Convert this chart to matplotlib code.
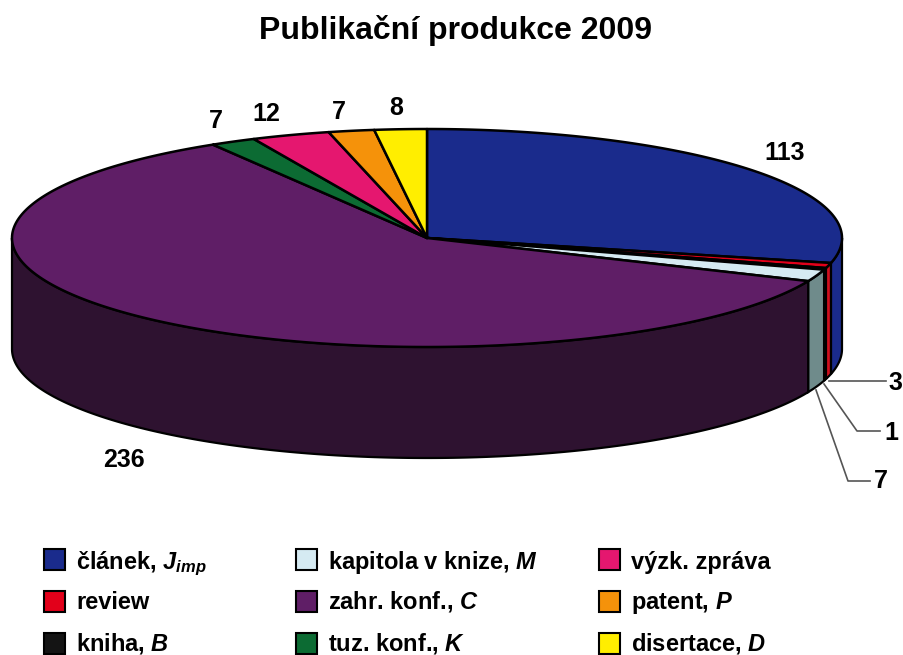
import numpy as np
import matplotlib
matplotlib.use('Agg')
import matplotlib.pyplot as plt

plt.rcParams['font.family'] = ['Liberation Sans', 'DejaVu Sans']
plt.rcParams['mathtext.fontset'] = 'custom'
plt.rcParams['mathtext.rm'] = 'Liberation Sans:bold'
plt.rcParams['mathtext.it'] = 'Liberation Sans:italic:bold'
plt.rcParams['mathtext.bf'] = 'Liberation Sans:bold'

title = 'Publikační produkce 2009'
values = [113, 3, 1, 7, 236, 7, 12, 7, 8]
names = ['článek, $J_{imp}$', 'review', 'kniha, $B$',
         'kapitola v knize, $M$', 'zahr. konf., $C$', 'tuz. konf., $K$',
         'výzk. zpráva', 'patent, $P$', 'disertace, $D$']
top_colors = ['#1a2b8c', '#e2001a', '#141414', '#d5eaf2', '#5f1e66',
              '#0c6b33', '#e5176f', '#f5920a', '#ffee00']
side_colors = ['#1a2b8c', '#d00f1e', '#141414', '#6f8b8b', '#2e1230',
               '#0c5a2a', '#b01055', '#c07508', '#ccbb00']
label_xy = [(785, 153), (895, 383), (891, 433), (881, 481), (124, 460),
            (216, 121), (266, 114), (339, 112), (396, 108)]
leader_lines = {1: [(829, 381), (886, 381)],
                2: [(824, 384), (857, 431), (880, 431)],
                3: [(816, 390), (848, 481), (870, 481)]}
legend_x = [44, 296, 599]
legend_y = [559, 601, 643]
legend_baseline = [569, 609, 651]

cx, cy, rx, ry, depth = 427, 238, 415, 109, 111


def rim(deg):
    t = np.radians(deg)
    return cx + rx * np.sin(t), cy - ry * np.cos(t)


fig = plt.figure(figsize=(9.04, 6.55), dpi=100)
ax = fig.add_axes([0, 0, 1, 1])
ax.set_xlim(0, 904)
ax.set_ylim(655, 0)
ax.axis('off')

edges = np.concatenate([[0], np.cumsum(values)]) / sum(values) * 360

# walls first, only the front half of the rim can be seen
for i in range(len(values)):
    a0, a1 = max(edges[i], 90), min(edges[i + 1], 270)
    if a1 <= a0:
        continue
    x, y = rim(np.linspace(a0, a1, 200))
    ax.fill(np.r_[x, x[::-1]], np.r_[y, y[::-1] + depth],
            fc=side_colors[i], ec='black', lw=1.6, zorder=2)

# top face
for i in range(len(values)):
    x, y = rim(np.linspace(edges[i], edges[i + 1], 300))
    ax.fill(np.r_[cx, x], np.r_[cy, y], fc=top_colors[i], ec='black', lw=1.8,
            joinstyle='round', zorder=3)

for i, v in enumerate(values):
    ax.text(*label_xy[i], str(v), fontsize=18, fontweight='bold',
            ha='center', va='center', zorder=5)

for pts in leader_lines.values():
    px, py = zip(*pts)
    ax.plot(px, py, color='#555555', lw=1.2, zorder=1)

ax.text(456, 31, title, fontsize=23, fontweight='bold', ha='center', va='center')

for i, name in enumerate(names):
    lx, ly = legend_x[i // 3], legend_y[i % 3]
    ax.add_patch(plt.Rectangle((lx, ly - 10), 21, 21, fc=top_colors[i], ec='black', lw=1.5))
    ax.text(lx + 32, legend_baseline[i % 3], name, fontsize=17, fontweight='bold', va='baseline')

fig.savefig('out.png', dpi=100, facecolor='white')
